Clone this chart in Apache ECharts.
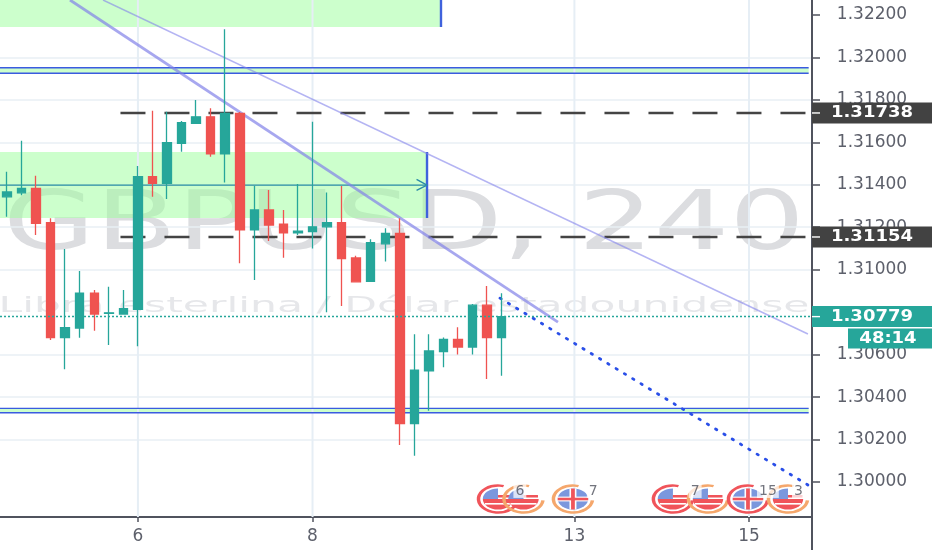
<!DOCTYPE html>
<html>
<head>
<meta charset="utf-8">
<style>html,body{margin:0;padding:0;background:#fff}#c{width:932px;height:550px}</style>
<script src="https://cdn.jsdelivr.net/npm/echarts@6/dist/echarts.min.js"></script>
</head>
<body>
<div id="c"></div>
<script>
const xMin = -0.48, xMax = 55.33, yFloor = 1.29835, yCeil = 1.3227;
const candleIndex = [0,1,2,3,4,5,6,7,8,9,10,11,12,13,14,15,16,17,18,19,20,21,22,23,24,25,26,27,28,29,30,31,32,33,34];
const opens  = [1.31343,1.31362,1.31383,1.31221,1.30680,1.30725,1.30889,1.30794,1.30791,1.30813,1.31438,1.31407,1.31595,1.31689,1.31720,1.31545,1.31736,1.31187,1.31281,1.31215,1.31174,1.31179,1.31202,1.31221,1.31055,1.30945,1.31122,1.31171,1.30275,1.30524,1.30614,1.30672,1.30636,1.30833,1.30680];
const closes = [1.31366,1.31383,1.31218,1.30680,1.30727,1.30889,1.30791,1.30797,1.30816,1.31438,1.31407,1.31598,1.31692,1.31720,1.31545,1.31736,1.31187,1.31281,1.31210,1.31174,1.31182,1.31202,1.31221,1.31052,1.30943,1.31127,1.31171,1.30275,1.30527,1.30617,1.30672,1.30636,1.30833,1.30680,1.30779];
const lows   = [1.31249,1.31351,1.31163,1.30669,1.30531,1.30680,1.30712,1.30645,1.30791,1.30640,1.31343,1.31333,1.31555,1.31689,1.31532,1.31411,1.31030,1.30951,1.31135,1.31056,1.31163,1.31100,1.30799,1.30829,1.30940,1.30943,1.31039,1.30174,1.30124,1.30336,1.30540,1.30601,1.30601,1.30485,1.30501];
const highs  = [1.31461,1.31607,1.31442,1.31242,1.31097,1.30994,1.30904,1.30920,1.30904,1.31488,1.31748,1.31744,1.31700,1.31799,1.31760,1.32132,1.31742,1.31395,1.31375,1.31281,1.31403,1.31697,1.31364,1.31394,1.31066,1.31143,1.31195,1.31242,1.30696,1.30696,1.30681,1.30729,1.30838,1.30923,1.30889];

const priceTicks = [1.30,1.302,1.304,1.306,1.31,1.312,1.314,1.316,1.318,1.32,1.322];
const dayTicks = [9,21,39,51];
const dayLabels = ['6','8','13','15'];

const zones = [[xMin,29.83,1.3227,1.32143],[xMin,28.87,1.31554,1.31243]];
const bands = [[1.31951,1.31925],[1.30347,1.30326]];
const bandEnd = 55.1;
const dashedLevels = [1.31738,1.31154];
const dashedStart = 7.8;
const lastClose = 1.30779;
const trendThick = [[4.33,1.3227],[37.87,1.30753]];
const trendThin = [[6.6,1.3227],[55.05,1.30697]];
const trendDotted = [[33.88,1.30866],[55.05,1.29986]];
const arrowLine = [[xMin,1.31398],[28.87,1.31398]];
const arrowHead = [[28.15,1.31425],[28.87,1.31398],[28.15,1.31373]];
const zoneEdges = [[[29.83,1.3227],[29.83,1.32143]],[[28.87,1.31554],[28.87,1.31243]]];

const eventLevel = 1.2992;
const eventX = [33.75,35.5,38.9,45.77,48.18,50.93,53.68];
const eventFlag = [0,0,1,0,0,1,0];
const eventRing = [0,1,1,0,1,0,1];
const countX = [35.25,40.3,47.3,52.3,54.4];
const countText = ['6','7','7','15','3'];
const countLevel = 1.29958;

const tags = [[1.31738,'1.31738','#424242'],[1.31154,'1.31154','#424242'],[lastClose,'1.30779','#26a69a']];
const countdown = '48:14';

const seg = (name,data,style,z) => ({type:'line',name,data,symbol:'none',silent:true,z,lineStyle:style,animation:false});
const series = [];
dayTicks.forEach(d => series.push(seg('day'+d,[[d,yFloor],[d,yCeil]],{color:'#e6eef5',width:2},1)));
series.push({type:'line',name:'zones',data:[[xMin,1.31]],symbol:'none',silent:true,z:2,animation:false,lineStyle:{width:0},
  markArea:{silent:true,animation:false,itemStyle:{color:'rgba(153,255,153,0.5)'},
    data:zones.map(r=>[{coord:[r[0],r[2]]},{coord:[r[1],r[3]]}]).concat(bands.map(b=>[{coord:[xMin,b[0]]},{coord:[bandEnd,b[1]]}]))}});
bands.forEach((b,i)=>b.forEach((p,j)=>series.push(seg('band'+i+j,[[xMin,p],[bandEnd,p]],{color:'#3a5be0',width:1.4},3))));
dashedLevels.forEach(p=>series.push(seg('level'+p,[[dashedStart,p],[xMax,p]],{color:'#444',width:2.4,type:[25,19]},3)));
zoneEdges.forEach((e,i)=>series.push(seg('edge'+i,e,{color:'#3f62dc',width:2.4},3)));
series.push(seg('arrow',arrowLine,{color:'#2b8ba8',width:1.4},3));
series.push(seg('arrowHead',arrowHead,{color:'#2b8ba8',width:1.4},3));
series.push(seg('trendThick',trendThick,{color:'rgba(130,130,232,0.7)',width:2.8},3));
series.push(seg('trendThin',trendThin,{color:'rgba(130,130,235,0.6)',width:1.5},3));
series.push(seg('trendDotted',trendDotted,{color:'#2a4fe8',width:2.8,type:[1.5,8.2],cap:'round'},3));
series.push({type:'candlestick',name:'GBPUSD',z:4,animation:false,silent:true,barWidth:9,
  data:candleIndex.map((x,i)=>[x,opens[i],closes[i],lows[i],highs[i]]),
  itemStyle:{color:'#26a69a',color0:'#ef5350',borderColor:'#26a69a',borderColor0:'#ef5350',borderWidth:1.3}});
series.push(seg('lastClose',[[xMin,lastClose],[xMax,lastClose]],{color:'#26a69a',width:1.5,type:[2,2]},5));

const RED='#f0545a',ORANGE='#f5a76c',BLUE='#7b97dd';
series.push({type:'custom',name:'events',z:6,silent:true,animation:false,clip:false,
  data:eventX.map((x,i)=>[x,eventLevel,eventFlag[i],eventRing[i]]),
  encode:{x:0,y:1},
  renderItem(params,api){
    const p=api.coord([api.value(0),api.value(1)]);
    const flag=api.value(2),ring=api.value(3)?ORANGE:RED;
    const kids=[{type:'arc',shape:{cx:0,cy:0,r:13.5,startAngle:0.1,endAngle:5.0},style:{stroke:ring,fill:'none',lineWidth:2.4}}];
    if(flag===0){
      kids.push({type:'sector',shape:{cx:0,cy:0,r:10.5,r0:0,startAngle:0,endAngle:Math.PI},style:{fill:RED}});
      kids.push({type:'sector',shape:{cx:0,cy:0,r:10.5,r0:0,startAngle:Math.PI,endAngle:Math.PI*1.5},style:{fill:BLUE}});
      kids.push({type:'rect',shape:{x:0,y:-4,width:10,height:2.5},style:{fill:RED}});
      kids.push({type:'rect',shape:{x:-9,y:4,width:18,height:1.6},style:{fill:'#fff'}});
    }else{
      kids.push({type:'circle',shape:{cx:0,cy:0,r:10.5},style:{fill:BLUE}});
      kids.push({type:'rect',shape:{x:-10.5,y:-2.4,width:21,height:4.8},style:{fill:'#fff'}});
      kids.push({type:'rect',shape:{x:-2.4,y:-10.5,width:4.8,height:21},style:{fill:'#fff'}});
      kids.push({type:'rect',shape:{x:-10.5,y:-1.3,width:21,height:2.6},style:{fill:RED}});
      kids.push({type:'rect',shape:{x:-1.3,y:-10.5,width:2.6,height:21},style:{fill:RED}});
    }
    return {type:'group',x:p[0],y:p[1],scaleX:1.45,scaleY:1,children:kids};
  }});
series.push({type:'scatter',name:'eventCounts',z:7,silent:true,animation:false,symbolSize:0,
  data:countX.map((x,i)=>({value:[x,countLevel],label:{formatter:countText[i]}})),
  label:{show:true,position:'inside',color:'#50535e',fontFamily:'DejaVu Sans',fontSize:14,backgroundColor:'rgba(255,255,255,0.9)',padding:[0,2]}});

const chart = echarts.init(document.getElementById('c'),null,{renderer:'canvas'});
const axisColor='#50535e', labelColor='#5d606b';
chart.setOption({
  animation:false,
  backgroundColor:'#ffffff',
  grid:{left:0,top:0,width:812,height:524.5,containLabel:false},
  xAxis:{type:'value',min:xMin,max:xMax,offset:-7.5,
    axisLine:{show:true,onZero:false,lineStyle:{color:axisColor,width:2}},
    splitLine:{show:false},
    axisTick:{show:true,customValues:dayTicks,length:5,lineStyle:{color:axisColor,width:1.5}},
    axisLabel:{customValues:dayTicks,margin:11,color:labelColor,fontFamily:'DejaVu Sans',fontSize:17,
      formatter:v=>dayLabels[dayTicks.indexOf(v)]||''}},
  yAxis:{type:'value',position:'right',min:1.298,max:yCeil,interval:0.002,
    axisLine:{show:true,onZero:false,lineStyle:{color:axisColor,width:2}},
    splitLine:{show:true,showMinLine:false,showMaxLine:false,lineStyle:{color:'#e8eff5',width:1.5}},
    axisTick:{show:true,customValues:priceTicks,length:8,lineStyle:{color:axisColor,width:1.5}},
    axisLabel:{customValues:priceTicks,align:'center',margin:60,color:labelColor,fontFamily:'DejaVu Sans',fontSize:17,
      formatter:v=>v.toFixed(5)}},
  series,
  graphic:[]
});

const gfx=[
  {type:'text',z:-1,silent:true,x:404,y:228,scaleX:1.45,style:{text:'GBPUSD, 240',font:'82px "DejaVu Sans"',fill:'#dcdde0',align:'center',verticalAlign:'middle'}},
  {type:'text',z:-1,silent:true,x:404,y:306,scaleX:1.93,style:{text:'Libra esterlina / Dólar estadounidense',font:'22px "DejaVu Sans"',fill:'#e6e7ea',align:'center',verticalAlign:'middle'}},
  {type:'line',zlevel:1,silent:true,shape:{x1:812,y1:517,x2:812,y2:550},style:{stroke:axisColor,lineWidth:2}}
];
tags.forEach(t=>{
  const y=chart.convertToPixel({yAxisIndex:0},t[0]);
  gfx.push({type:'rect',zlevel:1,z:20,silent:true,shape:{x:812,y:y-10.5,width:120,height:21},style:{fill:t[2]}});
  gfx.push({type:'rect',zlevel:1,z:21,silent:true,shape:{x:812,y:y-0.7,width:8,height:1.4},style:{fill:'#fff'}});
  gfx.push({type:'text',zlevel:1,z:22,silent:true,x:872,y:y,scaleX:1.2,style:{text:t[1],font:'bold 15px "DejaVu Sans"',fill:'#fff',align:'center',verticalAlign:'middle'}});
});
const cy=chart.convertToPixel({yAxisIndex:0},lastClose)+22;
gfx.push({type:'rect',zlevel:1,z:20,silent:true,shape:{x:848,y:cy-10,width:84,height:20},style:{fill:'#26a69a'}});
gfx.push({type:'text',zlevel:1,z:22,silent:true,x:888,y:cy,scaleX:1.2,style:{text:countdown,font:'bold 15px "DejaVu Sans"',fill:'#fff',align:'center',verticalAlign:'middle'}});
chart.setOption({graphic:gfx});
</script>
</body>
</html>
